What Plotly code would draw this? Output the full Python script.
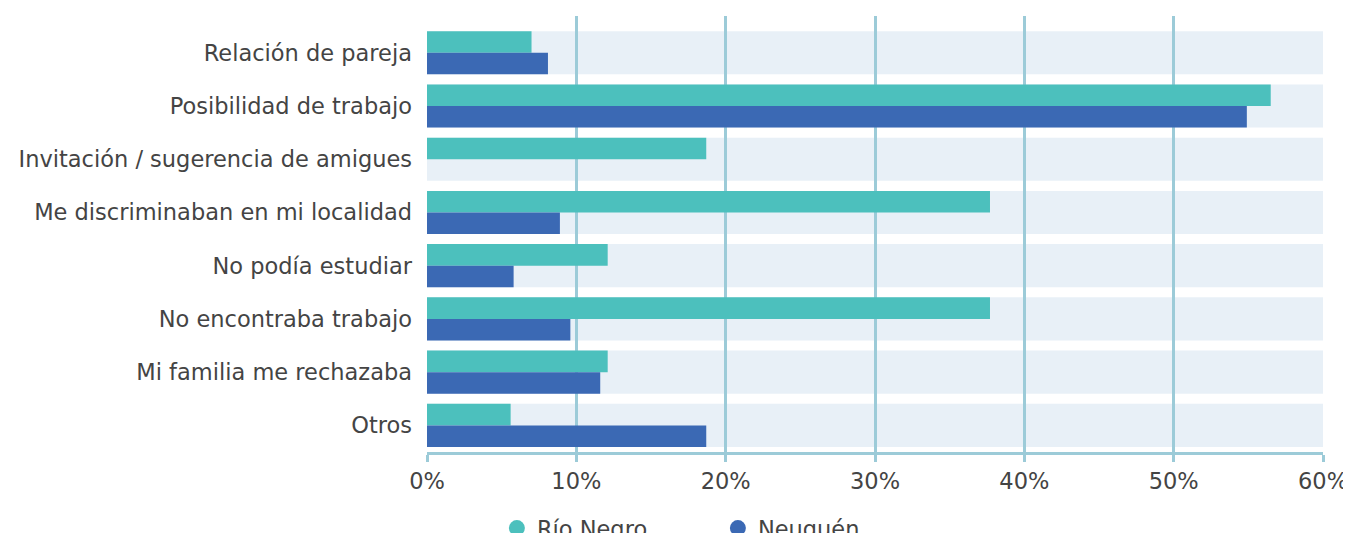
import plotly.graph_objects as go

categories = [
    "Relación de pareja",
    "Posibilidad de trabajo",
    "Invitación / sugerencia de amigues",
    "Me discriminaban en mi localidad",
    "No podía estudiar",
    "No encontraba trabajo",
    "Mi familia me rechazaba",
    "Otros",
]
rio_negro = [7.0, 56.5, 18.7, 37.7, 12.1, 37.7, 12.1, 5.6]
neuquen = [8.1, 54.9, 0.0, 8.9, 5.8, 9.6, 11.6, 18.7]
series_names = ["Río Negro", "Neuquén"]
x_ticks = [0, 10, 20, 30, 40, 50, 60]
x_tick_labels = [f"{v}%" for v in x_ticks]

TEAL = "#4cc0bd"
BLUE = "#3b69b4"
GRID = "#9ccbd8"
BAND = "#e8f0f7"
TEXT = "#444444"
FONT = "DejaVu Sans"
FS = 22.5

fig = go.Figure()
fig.add_trace(go.Bar(y=categories, x=rio_negro, orientation="h", name=series_names[0],
                     marker=dict(color=TEAL, line=dict(width=0)), showlegend=False))
fig.add_trace(go.Bar(y=categories, x=neuquen, orientation="h", name=series_names[1],
                     marker=dict(color=BLUE, line=dict(width=0)), showlegend=False))
# legend entries with round markers
for nm, col in zip(series_names, [TEAL, BLUE]):
    fig.add_trace(go.Scatter(x=[None], y=[None], mode="markers", name=nm,
                             marker=dict(color=col, size=16, symbol="circle")))

shapes = []
for i, _ in enumerate(categories):
    shapes.append(dict(type="rect", xref="x", yref="y", x0=0, x1=60,
                       y0=i - 0.405, y1=i + 0.405, fillcolor=BAND,
                       line=dict(width=0), layer="below"))

fig.update_layout(
    width=1351, height=533,
    margin=dict(l=419, r=36, t=8, b=89, autoexpand=False),
    paper_bgcolor="white", plot_bgcolor="white",
    barmode="group", bargap=0.19, bargroupgap=0,
    font=dict(family=FONT, size=FS, color=TEXT),
    shapes=shapes,
    showlegend=True,
    legend=dict(orientation="h", x=0.078, xanchor="left", y=-0.126, yanchor="top",
                font=dict(size=FS, color=TEXT), itemwidth=30,
                entrywidth=176, entrywidthmode="pixels",
                bgcolor="rgba(0,0,0,0)"),
    xaxis=dict(range=[0, 60], tickvals=x_ticks, ticktext=x_tick_labels,
               showgrid=True, gridcolor=GRID, gridwidth=3, zeroline=False,
               showline=True, linecolor=GRID, linewidth=3,
               ticks="outside", ticklen=7, tickwidth=3, tickcolor=GRID,
               tickfont=dict(size=FS, color=TEXT), fixedrange=True, automargin=False),
    yaxis=dict(type="category", categoryorder="array", categoryarray=categories,
               range=[7.5, -0.69], showgrid=False, zeroline=False, showline=False,
               ticks="", ticklabelstandoff=14, automargin=False,
               tickfont=dict(size=FS, color=TEXT), fixedrange=True),
)

fig.write_html("out.html")
